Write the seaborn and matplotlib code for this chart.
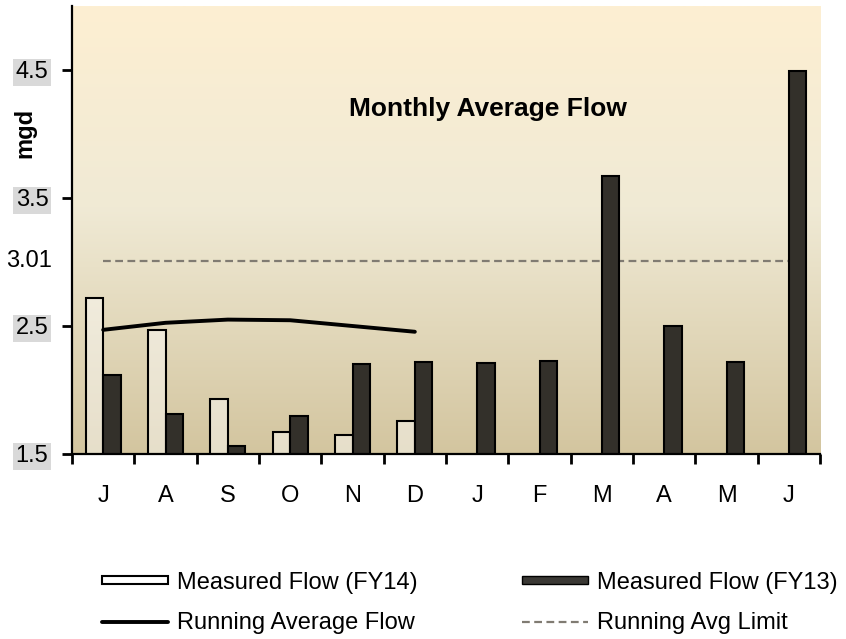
import numpy as np
import pandas as pd
import matplotlib
matplotlib.use("Agg")
import matplotlib.pyplot as plt
from matplotlib.colors import LinearSegmentedColormap
from matplotlib.patches import Patch
from matplotlib.lines import Line2D
import seaborn as sns

# fiscal year months, Jul..Jun
months = ["Jul", "Aug", "Sep", "Oct", "Nov", "Dec", "Jan", "Feb", "Mar", "Apr", "May", "Jun"]
month_labels = ["J", "A", "S", "O", "N", "D", "J", "F", "M", "A", "M", "J"]
flow_fy14 = [2.72, 2.47, 1.93, 1.67, 1.65, 1.755, np.nan, np.nan, np.nan, np.nan, np.nan, np.nan]
flow_fy13 = [2.12, 1.81, 1.565, 1.80, 2.205, 2.215, 2.21, 2.23, 3.67, 2.50, 2.22, 4.49]
running_avg = [2.47, 2.525, 2.55, 2.545, 2.50, 2.455]
avg_limit = [3.01] * 12
y_ticks = [1.5, 2.5, 3.5, 4.5]

df = pd.DataFrame({
    "month": months * 2,
    "year": ["FY14"] * 12 + ["FY13"] * 12,
    "flow": flow_fy14 + flow_fy13,
})

sns.set_theme(style="white")
plt.rcParams["font.family"] = ["Liberation Sans", "DejaVu Sans"]
plt.rcParams.update({"text.color": "black", "axes.labelcolor": "black",
                     "xtick.color": "black", "ytick.color": "black"})

fig = plt.figure(figsize=(8.46, 6.39), dpi=100)
ax = fig.add_axes([72 / 846, 1 - 454 / 639, 748 / 846, 448 / 639])

# background gradient of the plot area
bg = LinearSegmentedColormap.from_list("bg", [(0, "#d3c59f"), (0.55, "#f0ead5"), (1, "#fdefd2")])
ax.imshow(np.linspace(0, 1, 256).reshape(-1, 1), cmap=bg, aspect="auto", origin="lower",
          extent=[0, 1, 0, 1], transform=ax.transAxes, zorder=0)

sns.barplot(data=df, x="month", y="flow", hue="year", hue_order=["FY14", "FY13"],
            palette={"FY14": "white", "FY13": "#33302a"}, width=0.56, gap=0,
            edgecolor="black", linewidth=1.5, saturation=1, legend=False, ax=ax, zorder=2)
for p in ax.containers[0]:
    p.set_facecolor((1, 1, 1, 0.45))

x_pos = np.arange(len(months))
ax.plot(x_pos[:len(running_avg)], running_avg, color="black", lw=2.8, zorder=3)
ax.plot(x_pos, avg_limit, color="#807b72", lw=1.6, dashes=(3.5, 2), zorder=1.5)

ax.set_xlim(-0.5, 11.5)
ax.set_ylim(1.5, 5.0)
ax.set_xlabel("")
ax.set_ylabel("")

# ticks at month boundaries, labels at centers
ax.set_xticks(np.arange(13) - 0.5)
ax.set_xticklabels([])
ax.set_xticks(x_pos, minor=True)
ax.set_xticklabels(month_labels, minor=True, fontsize=17)
ax.tick_params(axis="x", which="major", length=7, width=2, direction="out", bottom=True)
ax.tick_params(axis="x", which="minor", length=0, pad=22, bottom=True)

ax.set_yticks(y_ticks)
ax.set_yticklabels([str(t) for t in y_ticks], fontsize=17)
ax.tick_params(axis="y", length=7, width=2, direction="out", pad=10, left=True)
for lab in ax.get_yticklabels():
    lab.set_bbox(dict(facecolor="#d9d9d9", edgecolor="none", pad=2))
ax.text(-20 / 748, 3.01, "3.01", transform=ax.get_yaxis_transform(), ha="right", va="center",
        fontsize=17)

for side in ["top", "right"]:
    ax.spines[side].set_visible(False)
for side in ["left", "bottom"]:
    ax.spines[side].set_color("black")
    ax.spines[side].set_linewidth(1.6)
    ax.spines[side].set_zorder(4)

ax.text((488 - 72) / 748, (454 - 109) / 448, "Monthly Average Flow", transform=ax.transAxes,
        ha="center", va="center", fontsize=19, fontweight="bold")
ax.text((25 - 72) / 748, (454 - 133) / 448, "mgd", transform=ax.transAxes, rotation=90,
        ha="center", va="center", fontsize=17, fontweight="bold")

handles = [
    Patch(facecolor="white", edgecolor="black", linewidth=1.5, label="Measured Flow (FY14)"),
    Line2D([], [], color="black", lw=2.8, label="Running Average Flow"),
    Patch(facecolor="#3a3834", edgecolor="black", linewidth=1, label="Measured Flow (FY13)"),
    Line2D([], [], color="#807b72", lw=1.6, dashes=(3.5, 2), label="Running Avg Limit"),
]
fig.legend(handles=handles, ncol=2, loc="upper left", bbox_to_anchor=(102 / 846, 1 - 572 / 639),
           frameon=False, fontsize=17, handlelength=2.8, handleheight=0.15, handletextpad=0.38,
           columnspacing=4.4, borderpad=0, borderaxespad=0, labelspacing=0.75)

fig.savefig("out.png", dpi=100)
